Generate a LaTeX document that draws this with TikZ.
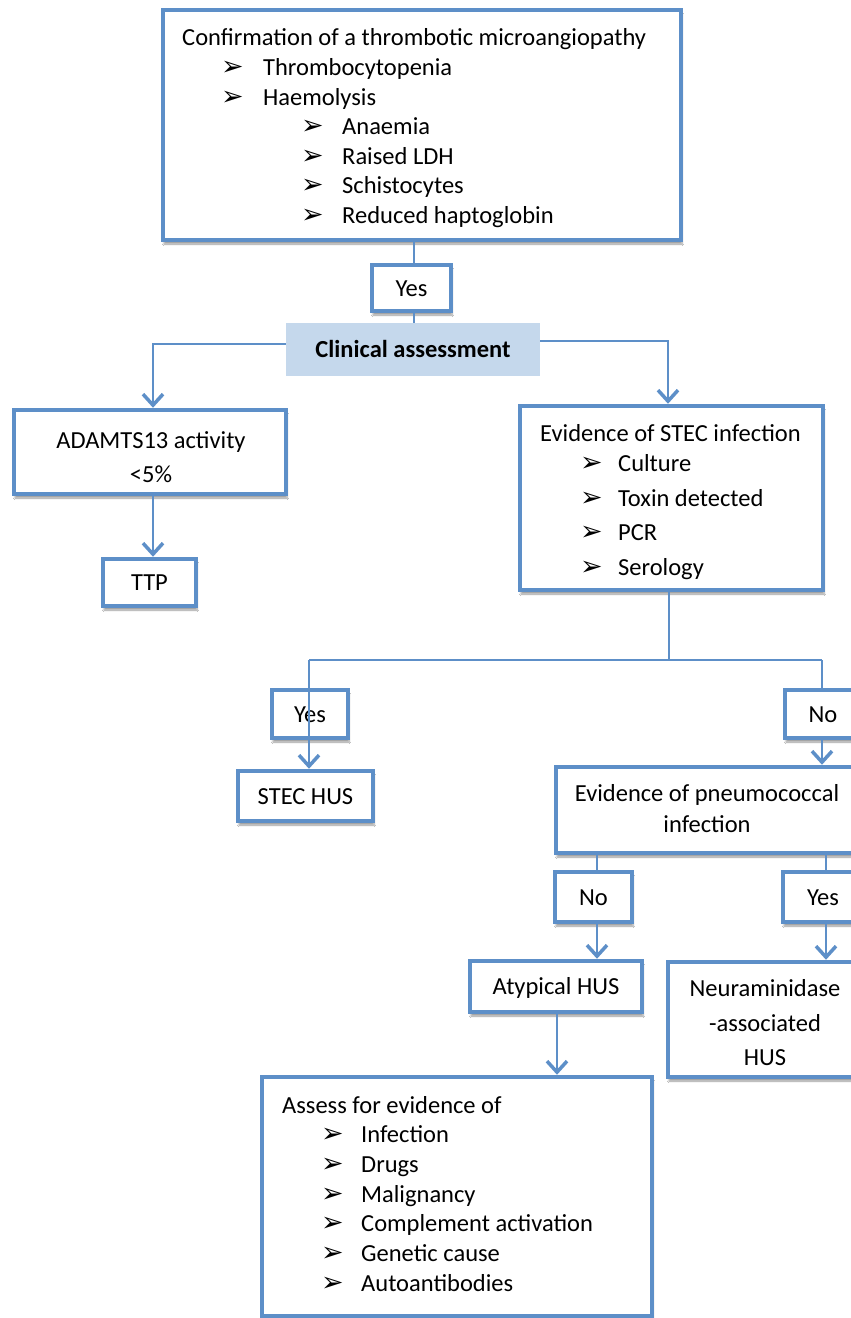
\documentclass[tikz,border=0pt]{standalone}
\usepackage{fontspec}
\setmainfont{Carlito}
\newfontfamily\dvs{DejaVu Sans}
\usetikzlibrary{arrows.meta,shadows.blur,calc}
\definecolor{bb}{RGB}{93,143,200}
\definecolor{cfill}{RGB}{197,216,236}
\tikzset{
  box/.style={draw=bb, line width=4.5pt, fill=white, rectangle, inner sep=0pt,
    text height=16pt, text depth=0pt,
    font=\fontsize{24.5}{30}\selectfont,
    blur shadow={shadow xshift=1pt, shadow yshift=-4pt, shadow blur steps=6, shadow opacity=40}},
  txt/.style={inner sep=0pt, anchor=base west, font=\fontsize{24.5}{30}\selectfont},
  ctxt/.style={inner sep=0pt, anchor=base, font=\fontsize{24.5}{30}\selectfont},
  bul/.style={inner sep=0pt, anchor=base west, font=\dvs\fontsize{27}{28}\selectfont},
  conn/.style={draw=bb, line width=1.8pt},
  arr/.style={conn, -{Straight Barb[length=11pt, width=20pt, line width=3.5pt]}}
}
\begin{document}
\begin{tikzpicture}[x=1pt, y=-1pt]
\fill[white] (0,0) rectangle (851,1318);
\useasboundingbox (0,0) rectangle (851,1318);

% boxes
\node[box, minimum width=518pt, minimum height=230pt] (top) at (422,125) {};
\node[box, minimum width=79pt, minimum height=46pt] (yes1) at (411.5,288) {Yes};
\node[fill=cfill, inner sep=0pt, minimum width=254pt, minimum height=53pt,
      text height=16pt, text depth=0pt, font=\bfseries\fontsize{24.5}{30}\selectfont] (clin) at (413,349.5) {Clinical assessment};
\node[box, minimum width=272pt, minimum height=84pt] (adamts) at (150,452) {};
\node[box, minimum width=93pt, minimum height=47pt] (ttp) at (149.5,582.5) {TTP};
\node[box, minimum width=303pt, minimum height=184pt] (stec) at (671.5,498) {};
\node[box, minimum width=76pt, minimum height=48pt] (yes2) at (310,714) {Yes};
\node[box, minimum width=76pt, minimum height=48pt] (no1) at (823,714) {No};
\node[box, minimum width=135pt, minimum height=50pt] (stechus) at (305.5,796) {STEC HUS};
\node[box, minimum width=302pt, minimum height=86pt] (pneu) at (707,810) {};
\node[box, minimum width=77pt, minimum height=50pt] (no2) at (593.5,897) {No};
\node[box, minimum width=80pt, minimum height=50pt] (yes3) at (823,897) {Yes};
\node[box, minimum width=172pt, minimum height=51pt] (atyp) at (556,986.5) {Atypical HUS};
\node[box, minimum width=194pt, minimum height=115pt] (neur) at (765,1019.5) {};
\node[box, minimum width=390pt, minimum height=239pt] (assess) at (457,1196.5) {};

% top box text
\node[txt] (t0) at (182,45) {Confirmation of a thrombotic microangiopathy};
\node[bul] (b1) at (221,75) {➢};
\node[txt] (t1) at (263,75) {Thrombocytopenia};
\node[bul] (b2) at (221,105) {➢};
\node[txt] (t2) at (263,105) {Haemolysis};
\node[bul] (b3) at (301,134) {➢};
\node[txt] (t3) at (342,134) {Anaemia};
\node[bul] (b4) at (301,164) {➢};
\node[txt] (t4) at (342,164) {Raised LDH};
\node[bul] (b5) at (301,193) {➢};
\node[txt] (t5) at (342,193) {Schistocytes};
\node[bul] (b6) at (301,223) {➢};
\node[txt] (t6) at (342,223) {Reduced haptoglobin};

% ADAMTS text
\node[ctxt] (a1) at (151,448) {ADAMTS13 activity};
\node[ctxt] (a2) at (151,482) {<5\%};

% STEC text
\node[txt] (s0) at (540,441) {Evidence of STEC infection};
\node[bul] (sb1) at (580,471) {➢};
\node[txt] (s1) at (618,471) {Culture};
\node[bul] (sb2) at (580,506) {➢};
\node[txt] (s2) at (618,506) {Toxin detected};
\node[bul] (sb3) at (580,540) {➢};
\node[txt] (s3) at (618,540) {PCR};
\node[bul] (sb4) at (580,575) {➢};
\node[txt] (s4) at (618,575) {Serology};

% pneumococcal text
\node[ctxt] (p1) at (707,801) {Evidence of pneumococcal};
\node[ctxt] (p2) at (707,832) {infection};

% neuraminidase text
\node[ctxt] (n1) at (765,996) {Neuraminidase};
\node[ctxt] (n2) at (765,1031) {-associated};
\node[ctxt] (n3) at (765,1065) {HUS};

% assess text
\node[txt] (e0) at (282,1113) {Assess for evidence of};
\node[bul] (eb1) at (321,1142) {➢};
\node[txt] (e1) at (361,1142) {Infection};
\node[bul] (eb2) at (321,1172) {➢};
\node[txt] (e2) at (361,1172) {Drugs};
\node[bul] (eb3) at (321,1202) {➢};
\node[txt] (e3) at (361,1202) {Malignancy};
\node[bul] (eb4) at (321,1231) {➢};
\node[txt] (e4) at (361,1231) {Complement activation};
\node[bul] (eb5) at (321,1261) {➢};
\node[txt] (e5) at (361,1261) {Genetic cause};
\node[bul] (eb6) at (321,1291) {➢};
\node[txt] (e6) at (361,1291) {Autoantibodies};

% connectors
\coordinate (xa) at (414,0);
\draw[conn] (top.south -| xa) -- (yes1.north -| xa);
\draw[conn] (yes1.south -| xa) -- (clin.north -| xa);
\coordinate (cl) at (286,344);
\coordinate (xl) at (153,0);
\draw[arr] (clin.west |- cl) -| (xl |- adamts.north);
\coordinate (cr) at (540,341);
\coordinate (xr) at (668,0);
\draw[arr] (clin.east |- cr) -| (xr |- stec.north);
\draw[arr] (xl |- adamts.south) -- (xl |- ttp.north);

\coordinate (xs) at (669,660);
\coordinate (sl) at (309,660);
\coordinate (sr) at (822,660);
\draw[conn] (xs |- stec.south) -- (xs);
\draw[conn] (sl) -- (sr);
\draw[arr] (sl) -- (sl |- stechus.north);
\draw[conn] (sr) -- (sr |- no1.north);
\draw[arr] (sr |- no1.south) -- (sr |- pneu.north);

\coordinate (xn) at (597,0);
\coordinate (xy) at (826,0);
\draw[conn] (xn |- pneu.south) -- (xn |- no2.north);
\draw[arr] (xn |- no2.south) -- (xn |- atyp.north);
\draw[conn] (xy |- pneu.south) -- (xy |- yes3.north);
\draw[arr] (xy |- yes3.south) -- (xy |- neur.north);

\coordinate (xat) at (557,0);
\draw[arr] (xat |- atyp.south) -- (xat |- assess.north);
\end{tikzpicture}
\end{document}
